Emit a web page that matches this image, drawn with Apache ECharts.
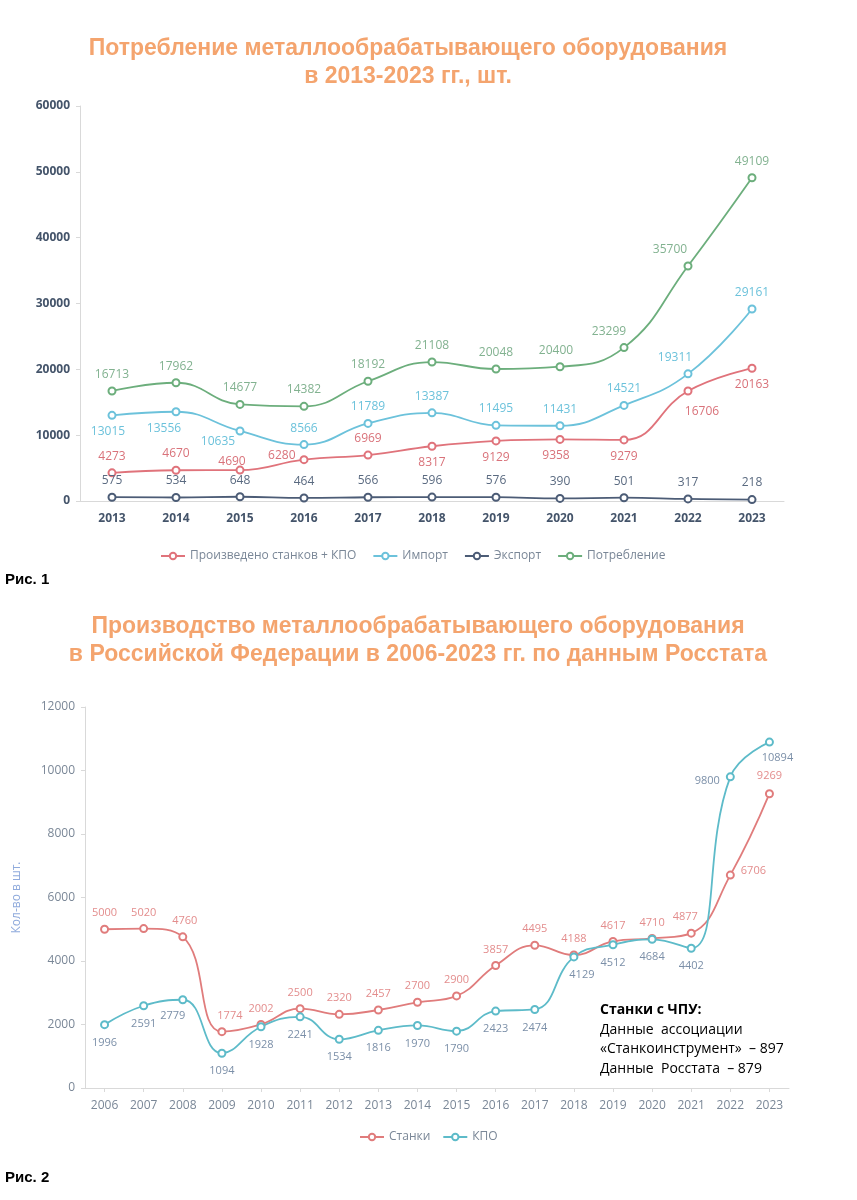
<!DOCTYPE html>
<html>
<head>
<meta charset="utf-8">
<script src="https://cdn.jsdelivr.net/npm/echarts@6/dist/echarts.min.js"></script>
<style>
html,body{margin:0;padding:0;background:#fff;}
#c{width:857px;height:1200px;}
</style>
</head>
<body>
<div id="c"></div>
<script>
// ---------- DATA ----------
const years1 = ['2013','2014','2015','2016','2017','2018','2019','2020','2021','2022','2023'];
const produced = [4273,4670,4690,6280,6969,8317,9129,9358,9279,16706,20163];
const imports = [13015,13556,10635,8566,11789,13387,11495,11431,14521,19311,29161];
const exportsArr = [575,534,648,464,566,596,576,390,501,317,218];
const consumption = [16713,17962,14677,14382,18192,21108,20048,20400,23299,35700,49109];

const years2 = ['2006','2007','2008','2009','2010','2011','2012','2013','2014','2015','2016','2017','2018','2019','2020','2021','2022','2023'];
const machines = [5000,5020,4760,1774,2002,2500,2320,2457,2700,2900,3857,4495,4188,4617,4710,4877,6706,9269];
const kpo = [1996,2591,2779,1094,1928,2241,1534,1816,1970,1790,2423,2474,4129,4512,4684,4402,9800,10894];

const seriesNames1 = ['Произведено станков + КПО','Импорт','Экспорт','Потребление'];
const seriesNames2 = ['Станки','КПО'];

// ---------- STYLE ----------
const FONT = '"Open Sans", "Noto Sans", sans-serif';
const TITLE_FONT = 'bold 23px "Liberation Sans", Arial, sans-serif';
const TITLE_COLOR = '#F4A46E';

function withLabels(values, pos, offs) {
  return values.map((v, i) => {
    const item = { value: v };
    const lab = {};
    if (pos && pos[i]) lab.position = pos[i];
    if (offs && offs[i]) lab.offset = offs[i];
    item.label = lab;
    return item;
  });
}

const prodPos = ['top','top','top','left','top','bottom','bottom','bottom','bottom','bottom','bottom'];
const prodOff = [null,null,[-8,8],[2,-4],null,null,null,[-4,0],null,[14,4],null];
const impPos = ['bottom','bottom','bottom','top','top','top','top','top','top','top','top'];
const impOff = [[-4,0],[-12,0],[-22,-6],null,null,null,null,null,null,[-13,0],null];
const consOff = [null,null,null,null,null,null,null,[-4,0],[-15,0],[-18,0],null];

const machPos = ['top','top','top','top','top','top','top','top','top','top','top','top','top','top','top','top','right','top'];
const machOff = [null,null,[2,0],[8,0],null,null,null,null,null,null,null,null,null,null,null,[-6,0],[0,-4],[0,-2]];
const kpoPos = ['bottom','bottom','bottom','bottom','bottom','bottom','bottom','bottom','bottom','bottom','bottom','bottom','bottom','bottom','bottom','bottom','left','bottom'];
const kpoOff = [[0,2],[0,2],[-10,0],[0,2],[0,2],[0,2],[0,2],[0,2],[0,2],[0,2],[0,2],[0,2],[8,2],[0,2],[0,2],[0,2],[0,4],[8,0]];

function lineSeries(name, data, color, labelColor, xi, fontSize) {
  return {
    name: name,
    type: 'line',
    xAxisIndex: xi,
    yAxisIndex: xi,
    data: data,
    smooth: 0.45,
    symbol: 'emptyCircle',
    symbolSize: 7,
    itemStyle: { color: color, borderWidth: 1 },
    lineStyle: { color: color, width: 1.8 },
    label: {
      show: true,
      position: 'top',
      color: labelColor,
      fontFamily: FONT,
      fontSize: fontSize,
      distance: 6
    },
    emphasis: { disabled: true },
    animation: false
  };
}

const chart = echarts.init(document.getElementById('c'), null, { renderer: 'canvas' });

const plain = v => String(v);

const option = {
  backgroundColor: '#ffffff',
  animation: false,
  grid: [
    { left: 80, top: 106, width: 704, height: 395 },
    { left: 85, top: 707, width: 704, height: 381 }
  ],
  xAxis: [
    {
      type: 'category', gridIndex: 0, data: years1, boundaryGap: true,
      axisLine: { lineStyle: { color: '#D9D9D9' } },
      axisTick: { show: false },
      axisLabel: { color: '#44546A', fontWeight: 'bold', fontFamily: FONT, fontSize: 12, margin: 12 }
    },
    {
      type: 'category', gridIndex: 1, data: years2, boundaryGap: true,
      axisLine: { lineStyle: { color: '#D9D9D9' } },
      axisTick: { show: true, alignWithLabel: true, lineStyle: { color: '#D9D9D9' }, length: 4 },
      axisLabel: { color: '#7A8797', fontFamily: FONT, fontSize: 12, margin: 12 }
    }
  ],
  yAxis: [
    {
      type: 'value', gridIndex: 0, min: 0, max: 60000, interval: 10000,
      axisLine: { show: true, lineStyle: { color: '#D9D9D9' } },
      axisTick: { show: true, lineStyle: { color: '#D9D9D9' }, length: 4 },
      splitLine: { show: false },
      axisLabel: { color: '#44546A', fontWeight: 'bold', fontFamily: FONT, fontSize: 12, margin: 10, formatter: plain }
    },
    {
      type: 'value', gridIndex: 1, min: 0, max: 12000, interval: 2000,
      name: 'Кол-во в шт.', nameLocation: 'middle', nameGap: 62,
      nameTextStyle: { color: '#8FAADC', fontFamily: FONT, fontSize: 12 },
      axisLine: { show: true, lineStyle: { color: '#D9D9D9' } },
      axisTick: { show: true, lineStyle: { color: '#D9D9D9' }, length: 4 },
      splitLine: { show: false },
      axisLabel: { color: '#7A8797', fontFamily: FONT, fontSize: 12, margin: 10, formatter: plain }
    }
  ],
  legend: [
    {
      data: seriesNames1, left: 155, top: 545, itemWidth: 24, itemHeight: 8, itemGap: 16,
      textStyle: { color: '#7A8797', fontFamily: FONT, fontSize: 12 }
    },
    {
      data: seriesNames2, left: 354, top: 1126, itemWidth: 24, itemHeight: 8, itemGap: 12,
      textStyle: { color: '#7A8797', fontFamily: FONT, fontSize: 12 }
    }
  ],
  series: [
    lineSeries(seriesNames1[0], withLabels(produced, prodPos, prodOff), '#E0737B', '#D9727A', 0, 12),
    lineSeries(seriesNames1[1], withLabels(imports, impPos, impOff), '#6CC2DB', '#6CC2DB', 0, 12),
    lineSeries(seriesNames1[2], exportsArr, '#4C5C76', '#5A6A80', 0, 12),
    lineSeries(seriesNames1[3], withLabels(consumption, null, consOff), '#6CAE7C', '#82B290', 0, 12),
    lineSeries(seriesNames2[0], withLabels(machines, machPos, machOff), '#E07C7C', '#E38D8D', 1, 11),
    lineSeries(seriesNames2[1], withLabels(kpo, kpoPos, kpoOff), '#5DBBC9', '#7B8FA8', 1, 11)
  ],
  graphic: [
    { type: 'text', x: 408, y: 49, style: { text: 'Потребление металлообрабатывающего оборудования', textAlign: 'center', textVerticalAlign: 'middle', font: TITLE_FONT, fill: TITLE_COLOR } },
    { type: 'text', x: 408, y: 77, style: { text: 'в 2013-2023 гг., шт.', textAlign: 'center', textVerticalAlign: 'middle', font: TITLE_FONT, fill: TITLE_COLOR } },
    { type: 'text', x: 418, y: 627, style: { text: 'Производство металлообрабатывающего оборудования', textAlign: 'center', textVerticalAlign: 'middle', font: TITLE_FONT, fill: TITLE_COLOR } },
    { type: 'text', x: 418, y: 655, style: { text: 'в Российской Федерации в 2006-2023 гг. по данным Росстата', textAlign: 'center', textVerticalAlign: 'middle', font: TITLE_FONT, fill: TITLE_COLOR } },
    { type: 'text', x: 5, y: 580, style: { text: 'Рис. 1', textVerticalAlign: 'middle', font: 'bold 15px "Liberation Sans Narrow", "Liberation Sans", Arial, sans-serif', fill: '#000' } },
    { type: 'text', x: 5, y: 1178, style: { text: 'Рис. 2', textVerticalAlign: 'middle', font: 'bold 15px "Liberation Sans Narrow", "Liberation Sans", Arial, sans-serif', fill: '#000' } },
    { type: 'text', x: 600, y: 1010, style: { text: 'Станки с ЧПУ:', textVerticalAlign: 'middle', font: 'bold 14px ' + FONT, fill: '#000' } },
    { type: 'text', x: 600, y: 1030, style: { text: 'Данные  ассоциации', textVerticalAlign: 'middle', font: '14px ' + FONT, fill: '#000' } },
    { type: 'text', x: 600, y: 1049, style: { text: '«Станкоинструмент»  – 897', textVerticalAlign: 'middle', font: '14px ' + FONT, fill: '#000' } },
    { type: 'text', x: 600, y: 1069, style: { text: 'Данные  Росстата  – 879', textVerticalAlign: 'middle', font: '14px ' + FONT, fill: '#000' } }
  ]
};

chart.setOption(option);
</script>
</body>
</html>
